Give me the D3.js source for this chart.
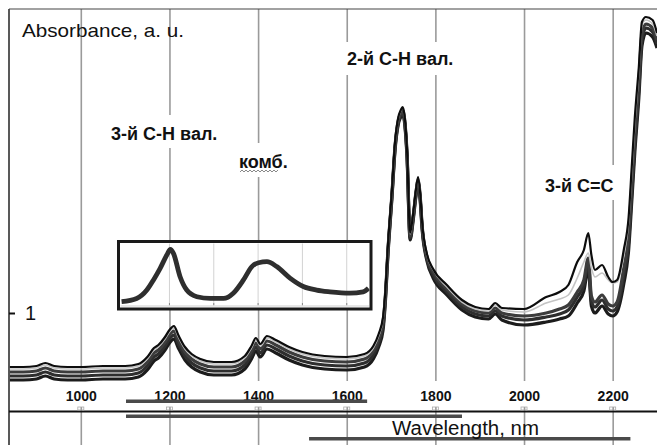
<!DOCTYPE html>
<html>
<head>
<meta charset="utf-8">
<script src="https://cdn.jsdelivr.net/npm/d3@7"></script>
<style>
body { margin: 0; background: #fff; }
svg { display: block; font-family: 'Liberation Sans', Arial, sans-serif; }
</style>
</head>
<body>
<svg id="chart"></svg>
<script>
// wavelength grid (nm) shared by all spectra
const wavelength = [840, 870, 900, 920, 940, 970, 1000, 1050, 1100, 1130, 1150, 1165, 1175, 1190, 1200, 1210, 1220, 1235, 1250, 1270,
	1300, 1340, 1370, 1385, 1395, 1405, 1420, 1440, 1470, 1500, 1550, 1600, 1640, 1660, 1672, 1682, 1687, 1693, 1702, 1709,
	1716, 1722, 1726, 1730, 1736, 1743, 1750, 1756, 1761, 1766, 1770, 1781, 1795, 1826, 1860, 1890, 1920, 1935, 1950, 2000,
	2050, 2080, 2100, 2120, 2135, 2145, 2152, 2160, 2176, 2190, 2200, 2210, 2225, 2236, 2243, 2250, 2259, 2266, 2275, 2290, 2300]

// absorbance of the individual spectra
const sample1 = [0.784, 0.784, 0.788, 0.800, 0.788, 0.784, 0.784, 0.788, 0.788, 0.796, 0.824, 0.860, 0.872, 0.904, 0.932, 0.948, 0.912, 0.864, 0.836, 0.816,
	0.804, 0.804, 0.828, 0.868, 0.900, 0.876, 0.908, 0.892, 0.864, 0.844, 0.828, 0.824, 0.836, 0.868, 0.916, 0.984, 1.084, 1.272, 1.492, 1.684,
	1.780, 1.812, 1.824, 1.796, 1.652, 1.320, 1.400, 1.492, 1.544, 1.472, 1.364, 1.236, 1.176, 1.112, 1.052, 1.024, 1.016, 1.040, 1.020, 1.016,
	1.064, 1.084, 1.112, 1.204, 1.252, 1.320, 1.232, 1.172, 1.192, 1.144, 1.124, 1.132, 1.252, 1.384, 1.584, 1.784, 1.984, 2.164, 2.184, 2.172, 2.120]
const sample2 = [0.776, 0.776, 0.780, 0.792, 0.780, 0.776, 0.776, 0.780, 0.780, 0.788, 0.816, 0.852, 0.864, 0.896, 0.924, 0.940, 0.904, 0.856, 0.828, 0.808,
	0.796, 0.796, 0.820, 0.860, 0.892, 0.868, 0.900, 0.884, 0.856, 0.836, 0.820, 0.816, 0.828, 0.860, 0.908, 0.976, 1.076, 1.264, 1.484, 1.676,
	1.776, 1.808, 1.820, 1.792, 1.648, 1.316, 1.396, 1.488, 1.540, 1.468, 1.360, 1.232, 1.172, 1.104, 1.044, 1.016, 1.008, 1.032, 1.012, 1.004,
	1.040, 1.056, 1.072, 1.140, 1.204, 1.240, 1.180, 1.144, 1.160, 1.132, 1.120, 1.124, 1.228, 1.364, 1.556, 1.756, 1.964, 2.148, 2.172, 2.156, 2.108]
const sample3 = [0.764, 0.764, 0.768, 0.780, 0.768, 0.764, 0.764, 0.768, 0.768, 0.776, 0.804, 0.840, 0.852, 0.884, 0.912, 0.928, 0.892, 0.844, 0.816, 0.796,
	0.784, 0.784, 0.808, 0.848, 0.880, 0.856, 0.888, 0.872, 0.844, 0.824, 0.808, 0.804, 0.816, 0.848, 0.896, 0.964, 1.064, 1.252, 1.476, 1.668,
	1.768, 1.800, 1.812, 1.784, 1.640, 1.308, 1.388, 1.480, 1.532, 1.460, 1.352, 1.224, 1.164, 1.096, 1.036, 1.008, 1.000, 1.020, 1.000, 0.988,
	1.000, 1.016, 1.032, 1.084, 1.132, 1.220, 1.068, 1.044, 1.072, 1.036, 1.028, 1.044, 1.180, 1.316, 1.508, 1.708, 1.924, 2.116, 2.156, 2.140, 2.092]
const sample4 = [0.748, 0.748, 0.752, 0.764, 0.752, 0.748, 0.748, 0.752, 0.752, 0.760, 0.788, 0.824, 0.836, 0.868, 0.896, 0.912, 0.876, 0.828, 0.800, 0.780,
	0.768, 0.768, 0.792, 0.832, 0.864, 0.840, 0.872, 0.856, 0.828, 0.808, 0.792, 0.788, 0.800, 0.832, 0.880, 0.948, 1.052, 1.244, 1.468, 1.660,
	1.760, 1.792, 1.804, 1.776, 1.632, 1.300, 1.380, 1.472, 1.524, 1.452, 1.344, 1.216, 1.152, 1.084, 1.024, 0.996, 0.988, 1.008, 0.988, 0.972,
	0.984, 0.996, 1.012, 1.064, 1.112, 1.200, 1.048, 1.024, 1.052, 1.016, 1.008, 1.024, 1.148, 1.284, 1.476, 1.676, 1.892, 2.092, 2.140, 2.124, 2.076]
const sample5 = [0.732, 0.732, 0.736, 0.748, 0.736, 0.732, 0.732, 0.736, 0.736, 0.744, 0.772, 0.808, 0.820, 0.852, 0.880, 0.896, 0.860, 0.812, 0.784, 0.764,
	0.752, 0.752, 0.776, 0.816, 0.848, 0.824, 0.856, 0.840, 0.812, 0.792, 0.776, 0.772, 0.784, 0.816, 0.864, 0.932, 1.040, 1.232, 1.460, 1.652,
	1.752, 1.784, 1.796, 1.768, 1.624, 1.292, 1.372, 1.464, 1.516, 1.444, 1.336, 1.208, 1.140, 1.072, 1.012, 0.984, 0.976, 0.996, 0.972, 0.952,
	0.964, 0.976, 0.988, 1.040, 1.088, 1.176, 1.028, 1.000, 1.028, 0.996, 0.988, 1.004, 1.116, 1.252, 1.444, 1.644, 1.860, 2.068, 2.120, 2.104, 2.060]

// inset: enlarged 1100-1650 nm part
const insetWavelength = [1092, 1126, 1149, 1164, 1179, 1194, 1202, 1209, 1224, 1239, 1262, 1292, 1322, 1344, 1367, 1386, 1401, 1420, 1442, 1472,
	1502, 1532, 1562, 1607, 1637, 1649]
const insetAbs = [0.774, 0.783, 0.807, 0.836, 0.869, 0.907, 0.923, 0.912, 0.845, 0.807, 0.788, 0.783, 0.783, 0.798, 0.836, 0.874, 0.885, 0.888, 0.874, 0.841,
	0.817, 0.807, 0.802, 0.798, 0.802, 0.812]

const xTicks = [1000, 1200, 1400, 1600, 1800, 2000, 2200]
const yTicks = [1]
const insetTicks = [1200, 1300, 1400, 1500, 1600]

const peakLabels = ['3-й C-H вал.', 'комб.', '2-й C-H вал.', '3-й C=C']

const width = 657
const height = 445
const font = "'Liberation Sans', Arial, sans-serif"

const svg = d3.select('#chart').attr('width', width).attr('height', height)

const x = d3.scaleLinear().domain([838, 2300]).range([9, 657])
const y = d3.scaleLinear().domain([0.612, 2.216]).range([410, 9])

// vertical grid
svg
	.append('g')
	.attr('transform', `translate(0,${height})`)
	.call(d3.axisBottom(x).tickValues(xTicks).tickSize(-(height - 9)).tickFormat(''))
	.call(g => g.select('.domain').remove())
	.selectAll('line')
	.attr('stroke', '#9a9a9a')
	.attr('stroke-width', 1.6)

// tick labels with white boxes
const xAxis = svg
	.append('g')
	.attr('transform', 'translate(0,388)')
	.call(d3.axisBottom(x).tickValues(xTicks).tickSize(0).tickPadding(3).tickFormat(d3.format('d')))
	.attr('font-family', font)
	.attr('font-size', 14)
xAxis.select('.domain').remove()
xAxis
	.selectAll('.tick')
	.insert('rect', 'text')
	.attr('x', -19)
	.attr('y', -7)
	.attr('width', 38)
	.attr('height', 26)
	.attr('fill', '#fff')
xAxis.selectAll('text').attr('font-weight', 'bold').attr('fill', '#111')

// frame
svg.append('line').attr('x1', 9).attr('x2', 9).attr('y1', 9).attr('y2', height).attr('stroke', '#222').attr('stroke-width', 1.5)
svg.append('line').attr('x1', 9).attr('x2', width).attr('y1', 9).attr('y2', 9).attr('stroke', '#444').attr('stroke-width', 1.2)
svg.append('line').attr('x1', 9).attr('x2', width).attr('y1', 411.5).attr('y2', 411.5).attr('stroke', '#111').attr('stroke-width', 2)

svg
	.append('g')
	.selectAll('rect')
	.data(xTicks)
	.join('rect')
	.attr('x', d => x(d) - 3)
	.attr('y', 407)
	.attr('width', 6)
	.attr('height', 3)
	.attr('fill', 'none')
	.attr('stroke', '#aaa')
	.attr('stroke-width', 0.8)

// grey scroll-like bars under the axis
const bars = [
	[1102, 1646, 399.5],
	[1102, 1860, 414.5],
	[1515, 2240, 437]
]
svg
	.append('g')
	.selectAll('rect')
	.data(bars)
	.join('rect')
	.attr('x', d => x(d[0]))
	.attr('y', d => d[2])
	.attr('width', d => x(d[1]) - x(d[0]))
	.attr('height', 3.5)
	.attr('fill', '#4a4a4a')

svg
	.append('text')
	.attr('x', 392)
	.attr('y', 435)
	.attr('font-size', 20)
	.attr('textLength', 147)
	.attr('lengthAdjust', 'spacingAndGlyphs')
	.attr('fill', '#111')
	.text('Wavelength, nm')

// y axis with the single tick
const yAxis = svg
	.append('g')
	.attr('transform', 'translate(9,0)')
	.call(d3.axisLeft(y).tickValues(yTicks).tickSize(-6).tickPadding(-16).tickFormat(d3.format('d')))
	.attr('font-family', font)
	.attr('font-size', 20)
yAxis.select('.domain').remove()
yAxis.selectAll('line').attr('stroke', '#111').attr('stroke-width', 2)
yAxis.selectAll('text').attr('text-anchor', 'start').attr('fill', '#111')

svg
	.append('text')
	.attr('x', 22)
	.attr('y', 37)
	.attr('font-size', 19)
	.attr('textLength', 162)
	.attr('lengthAdjust', 'spacingAndGlyphs')
	.attr('fill', '#111')
	.text('Absorbance, a. u.')

// spectra
svg
	.append('clipPath')
	.attr('id', 'plot-clip')
	.append('rect')
	.attr('x', 9)
	.attr('y', 9)
	.attr('width', width - 9)
	.attr('height', height - 9)

const line = d3
	.line()
	.x((d, i) => x(wavelength[i]))
	.y(d => y(d))
	.curve(d3.curveMonotoneX)

const spectra = [
	{ values: sample5, color: '#1c1c1c', w: 3.2 },
	{ values: sample4, color: '#2e2e2e', w: 3.2 },
	{ values: sample3, color: '#3c3c3c', w: 3.2 },
	{ values: sample2, color: '#c4c4c4', w: 1.6 },
	{ values: sample1, color: '#0d0d0d', w: 2.2 }
]

svg
	.append('g')
	.attr('clip-path', 'url(#plot-clip)')
	.selectAll('path')
	.data(spectra)
	.join('path')
	.attr('fill', 'none')
	.attr('stroke', d => d.color)
	.attr('stroke-width', d => d.w)
	.attr('stroke-linejoin', 'round')
	.attr('d', d => line(d.values))

// inset
const inset = { x: 118.5, y: 241.5, w: 252.5, h: 67.5 }
const insetY = d3.scaleLinear().domain([0.75, 0.95]).range([310, 240])

svg
	.append('rect')
	.attr('x', inset.x)
	.attr('y', inset.y)
	.attr('width', inset.w)
	.attr('height', inset.h)
	.attr('fill', '#fff')

svg
	.append('g')
	.selectAll('line')
	.data(insetTicks)
	.join('line')
	.attr('x1', d => x(d))
	.attr('x2', d => x(d))
	.attr('y1', inset.y + 2)
	.attr('y2', 306)
	.attr('stroke', '#d2d2d2')
	.attr('stroke-width', 1)

svg.append('line').attr('x1', inset.x + 2).attr('x2', inset.x + inset.w - 2).attr('y1', 306).attr('y2', 306).attr('stroke', '#cfcfcf')

svg
	.append('g')
	.selectAll('line')
	.data(insetTicks)
	.join('line')
	.attr('x1', d => x(d))
	.attr('x2', d => x(d))
	.attr('y1', 303)
	.attr('y2', 305)
	.attr('stroke', '#888')

svg
	.append('clipPath')
	.attr('id', 'inset-clip')
	.append('rect')
	.attr('x', inset.x + 1.5)
	.attr('y', inset.y + 1.5)
	.attr('width', inset.w - 3)
	.attr('height', inset.h - 3)

svg
	.append('path')
	.attr('clip-path', 'url(#inset-clip)')
	.attr('fill', 'none')
	.attr('stroke', '#2e2e2e')
	.attr('stroke-width', 4.8)
	.attr(
		'd',
		d3
			.line()
			.x((d, i) => x(insetWavelength[i]))
			.y(d => insetY(d))
			.curve(d3.curveMonotoneX)(insetAbs)
	)

svg
	.append('rect')
	.attr('x', inset.x)
	.attr('y', inset.y)
	.attr('width', inset.w)
	.attr('height', inset.h)
	.attr('fill', 'none')
	.attr('stroke', '#1a1a1a')
	.attr('stroke-width', 3)

// band annotations on white boxes
const notes = [
	{ text: peakLabels[0], x: 111, y: 140, box: [107, 115, 118, 33] },
	{ text: peakLabels[1], x: 239, y: 168, box: [235, 143, 56, 34] },
	{ text: peakLabels[2], x: 347, y: 65, box: [342, 42, 118, 33] },
	{ text: peakLabels[3], x: 545, y: 192, box: [541, 165, 77, 35] }
]

const noteG = svg.append('g').selectAll('g').data(notes).join('g')
noteG
	.append('rect')
	.attr('x', d => d.box[0])
	.attr('y', d => d.box[1])
	.attr('width', d => d.box[2])
	.attr('height', d => d.box[3])
	.attr('fill', '#fff')
noteG
	.append('text')
	.attr('x', d => d.x)
	.attr('y', d => d.y)
	.attr('font-size', 18)
	.attr('font-weight', 'bold')
	.attr('fill', '#111')
	.text(d => d.text)

// spell-check squiggle under "комб"
const squiggle = d3.range(240, 279, 2).map((px, i) => [px, i % 2 ? 170 : 172])
svg
	.append('path')
	.attr('d', d3.line()(squiggle))
	.attr('fill', 'none')
	.attr('stroke', '#8a8a8a')
	.attr('stroke-width', 1)
</script>
</body>
</html>
